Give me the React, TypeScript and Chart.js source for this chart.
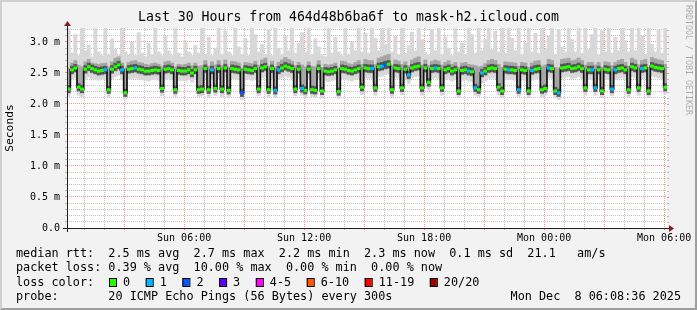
import React, { useEffect, useRef } from 'react';
import { Chart, registerables } from 'chart.js';

Chart.register(...registerables);

// ---- time axis (minutes since Sun 00:00) ----
const START_MIN = 8.6; // Sun 00:08:36
const STEP_MIN = 10;
const END_MIN = START_MIN + 1800;
const HOUR_TICKS = Array.from({ length: 30 }, (_, k) => (k + 1) * 60);
const X_LABEL_VALUES = [360, 720, 1080, 1440, 1800];
const X_LABELS = ['Sun 06:00', 'Sun 12:00', 'Sun 18:00', 'Mon 00:00', 'Mon 06:00'];
const Y_LABEL_VALUES = [0, 0.5, 1.0, 1.5, 2.0, 2.5, 3.0];
const Y_LABELS = ['0.0', '0.5 m', '1.0 m', '1.5 m', '2.0 m', '2.5 m', '3.0 m'];

// ---- data (milliseconds) ----
const median = [
  2.24, 2.55, 2.58, 2.27, 2.24, 2.56, 2.60, 2.57, 2.55, 2.53,
  2.54, 2.55, 2.23, 2.56, 2.60, 2.63, 2.55, 2.18, 2.56, 2.57,
  2.58, 2.56, 2.55, 2.53, 2.53, 2.54, 2.55, 2.54, 2.25, 2.56,
  2.57, 2.55, 2.23, 2.54, 2.53, 2.53, 2.55, 2.50, 2.55, 2.23,
  2.24, 2.57, 2.23, 2.55, 2.25, 2.57, 2.24, 2.58, 2.22, 2.57,
  2.56, 2.55, 2.18, 2.56, 2.55, 2.54, 2.57, 2.24, 2.58, 2.60,
  2.23, 2.57, 2.22, 2.55, 2.58, 2.61, 2.59, 2.57, 2.24, 2.56,
  2.25, 2.22, 2.56, 2.23, 2.22, 2.57, 2.21, 2.53, 2.52, 2.53,
  2.55, 2.20, 2.57, 2.56, 2.54, 2.53, 2.55, 2.57, 2.27, 2.58,
  2.57, 2.57, 2.26, 2.60, 2.61, 2.63, 2.64, 2.23, 2.58, 2.57,
  2.26, 2.56, 2.47, 2.58, 2.60, 2.61, 2.26, 2.58, 2.35, 2.57,
  2.58, 2.57, 2.26, 2.55, 2.57, 2.53, 2.55, 2.21, 2.54, 2.55,
  2.53, 2.52, 2.26, 2.23, 2.50, 2.53, 2.57, 2.58, 2.57, 2.27,
  2.21, 2.56, 2.55, 2.55, 2.54, 2.23, 2.55, 2.54, 2.21, 2.54,
  2.56, 2.57, 2.23, 2.25, 2.58, 2.57, 2.21, 2.18, 2.58, 2.59,
  2.60, 2.57, 2.58, 2.60, 2.57, 2.26, 2.55, 2.55, 2.26, 2.55,
  2.21, 2.56, 2.55, 2.24, 2.55, 2.57, 2.58, 2.55, 2.23, 2.60,
  2.58, 2.26, 2.57, 2.58, 2.21, 2.61, 2.59, 2.58, 2.57, 2.27,
];

const loss = [
  0, 0, 0, 0, 0, 0, 0, 0, 0, 0,
  0, 1, 0, 0, 0, 0, 1, 0, 0, 0,
  1, 0, 0, 0, 0, 0, 0, 0, 0, 0,
  0, 0, 0, 0, 0, 0, 0, 0, 0, 0,
  0, 0, 0, 1, 0, 0, 0, 0, 0, 0,
  0, 0, 2, 0, 0, 0, 0, 0, 0, 0,
  0, 0, 1, 1, 0, 0, 0, 0, 0, 0,
  1, 0, 0, 0, 0, 0, 0, 0, 0, 0,
  0, 0, 0, 0, 0, 0, 0, 0, 0, 0,
  0, 1, 0, 0, 1, 2, 0, 0, 0, 0,
  0, 0, 1, 0, 0, 0, 0, 0, 0, 0,
  1, 0, 0, 0, 0, 0, 0, 0, 0, 0,
  1, 0, 1, 0, 1, 0, 0, 0, 0, 0,
  0, 0, 1, 0, 0, 1, 0, 0, 0, 1,
  0, 0, 0, 0, 1, 0, 0, 1, 0, 0,
  0, 0, 0, 0, 0, 0, 0, 1, 1, 0,
  0, 0, 0, 1, 1, 0, 0, 0, 0, 0,
  0, 0, 1, 0, 0, 0, 0, 0, 0, 0,
];

const smokeMin = [
  2.12, 2.40, 2.42, 2.14, 2.12, 2.40, 2.43, 2.41, 2.40, 2.38,
  2.40, 2.39, 2.12, 2.41, 2.44, 2.46, 2.39, 2.08, 2.40, 2.41,
  2.42, 2.40, 2.39, 2.38, 2.37, 2.39, 2.40, 2.38, 2.13, 2.40,
  2.41, 2.39, 2.12, 2.38, 2.38, 2.37, 2.40, 2.35, 2.39, 2.12,
  2.13, 2.41, 2.11, 2.40, 2.14, 2.41, 2.12, 2.42, 2.10, 2.41,
  2.40, 2.39, 2.07, 2.40, 2.40, 2.38, 2.41, 2.13, 2.42, 2.44,
  2.12, 2.41, 2.10, 2.39, 2.42, 2.45, 2.43, 2.41, 2.13, 2.40,
  2.14, 2.10, 2.40, 2.12, 2.10, 2.41, 2.09, 2.37, 2.36, 2.38,
  2.39, 2.09, 2.41, 2.40, 2.38, 2.37, 2.40, 2.41, 2.15, 2.42,
  2.41, 2.41, 2.14, 2.44, 2.45, 2.47, 2.48, 2.12, 2.42, 2.41,
  2.15, 2.40, 2.33, 2.42, 2.44, 2.45, 2.14, 2.42, 2.22, 2.41,
  2.42, 2.41, 2.14, 2.39, 2.41, 2.37, 2.39, 2.10, 2.38, 2.39,
  2.37, 2.36, 2.14, 2.12, 2.34, 2.37, 2.41, 2.42, 2.41, 2.15,
  2.10, 2.40, 2.39, 2.39, 2.38, 2.12, 2.39, 2.38, 2.10, 2.38,
  2.40, 2.41, 2.12, 2.14, 2.42, 2.41, 2.10, 2.07, 2.42, 2.43,
  2.44, 2.41, 2.42, 2.44, 2.41, 2.14, 2.39, 2.39, 2.14, 2.39,
  2.10, 2.40, 2.39, 2.13, 2.39, 2.41, 2.42, 2.39, 2.12, 2.44,
  2.42, 2.14, 2.41, 2.42, 2.10, 2.45, 2.43, 2.42, 2.41, 2.16,
];

const smokeLo = [
  2.18, 2.48, 2.51, 2.21, 2.18, 2.49, 2.53, 2.50, 2.48, 2.46,
  2.47, 2.48, 2.17, 2.49, 2.53, 2.56, 2.48, 2.12, 2.49, 2.50,
  2.51, 2.49, 2.48, 2.46, 2.46, 2.47, 2.48, 2.47, 2.19, 2.49,
  2.50, 2.48, 2.17, 2.47, 2.46, 2.46, 2.48, 2.43, 2.48, 2.17,
  2.18, 2.50, 2.17, 2.48, 2.19, 2.50, 2.18, 2.51, 2.16, 2.50,
  2.49, 2.48, 2.12, 2.49, 2.48, 2.47, 2.50, 2.18, 2.51, 2.53,
  2.17, 2.50, 2.16, 2.48, 2.51, 2.54, 2.52, 2.50, 2.18, 2.49,
  2.19, 2.16, 2.49, 2.17, 2.16, 2.50, 2.15, 2.46, 2.45, 2.46,
  2.48, 2.14, 2.50, 2.49, 2.47, 2.46, 2.48, 2.50, 2.21, 2.51,
  2.50, 2.50, 2.20, 2.53, 2.54, 2.56, 2.57, 2.17, 2.51, 2.50,
  2.20, 2.49, 2.40, 2.51, 2.53, 2.54, 2.20, 2.51, 2.28, 2.50,
  2.51, 2.50, 2.20, 2.48, 2.50, 2.46, 2.48, 2.15, 2.47, 2.48,
  2.46, 2.45, 2.20, 2.17, 2.43, 2.46, 2.50, 2.51, 2.50, 2.21,
  2.15, 2.49, 2.48, 2.48, 2.47, 2.17, 2.48, 2.47, 2.15, 2.47,
  2.49, 2.50, 2.17, 2.19, 2.51, 2.50, 2.15, 2.12, 2.51, 2.52,
  2.53, 2.50, 2.51, 2.53, 2.50, 2.20, 2.48, 2.48, 2.20, 2.48,
  2.15, 2.49, 2.48, 2.18, 2.48, 2.50, 2.51, 2.48, 2.17, 2.53,
  2.51, 2.20, 2.50, 2.51, 2.15, 2.54, 2.52, 2.51, 2.50, 2.21,
];

const smokeHi = [
  2.58, 2.66, 2.70, 2.62, 2.60, 2.68, 2.72, 2.66, 2.65, 2.64,
  2.65, 2.66, 2.60, 2.68, 2.74, 2.76, 2.66, 2.58, 2.67, 2.69,
  2.70, 2.67, 2.66, 2.64, 2.63, 2.65, 2.66, 2.64, 2.60, 2.68,
  2.69, 2.66, 2.60, 2.64, 2.63, 2.64, 2.66, 2.62, 2.66, 2.61,
  2.62, 2.70, 2.61, 2.68, 2.63, 2.70, 2.62, 2.71, 2.60, 2.69,
  2.68, 2.66, 2.58, 2.67, 2.66, 2.65, 2.69, 2.62, 2.71, 2.74,
  2.61, 2.69, 2.60, 2.67, 2.71, 2.75, 2.72, 2.69, 2.62, 2.67,
  2.63, 2.60, 2.68, 2.61, 2.60, 2.70, 2.59, 2.64, 2.63, 2.64,
  2.66, 2.58, 2.69, 2.68, 2.65, 2.64, 2.67, 2.70, 2.64, 2.72,
  2.70, 2.70, 2.64, 2.74, 2.76, 2.78, 2.80, 2.62, 2.71, 2.69,
  2.64, 2.68, 2.62, 2.71, 2.74, 2.76, 2.63, 2.71, 2.62, 2.69,
  2.71, 2.69, 2.63, 2.67, 2.70, 2.64, 2.67, 2.59, 2.66, 2.67,
  2.64, 2.63, 2.62, 2.60, 2.61, 2.65, 2.70, 2.72, 2.70, 2.64,
  2.59, 2.68, 2.67, 2.67, 2.66, 2.61, 2.67, 2.66, 2.59, 2.66,
  2.69, 2.70, 2.61, 2.63, 2.72, 2.70, 2.59, 2.57, 2.72, 2.73,
  2.74, 2.70, 2.71, 2.74, 2.70, 2.63, 2.67, 2.67, 2.63, 2.67,
  2.59, 2.68, 2.67, 2.62, 2.67, 2.70, 2.72, 2.67, 2.61, 2.74,
  2.71, 2.63, 2.70, 2.72, 2.59, 2.75, 2.73, 2.71, 2.70, 2.64,
];

const smokeMax = [
  3.30, 2.82, 3.12, 2.78, 3.30, 2.86, 2.95, 2.76, 3.22, 2.84,
  2.78, 3.30, 2.80, 3.05, 2.88, 2.78, 3.30, 2.84, 2.80, 3.00,
  2.78, 3.15, 2.82, 2.76, 2.98, 2.80, 3.30, 2.84, 2.78, 3.10,
  2.86, 2.78, 3.30, 2.82, 2.76, 3.02, 2.84, 2.78, 2.94, 2.82,
  3.25, 2.80, 3.08, 2.78, 2.90, 3.30, 2.80, 3.18, 2.84, 2.78,
  3.30, 2.92, 2.80, 3.06, 2.78, 3.30, 3.12, 2.84, 2.96, 2.80,
  3.20, 2.78, 3.30, 2.90, 2.80, 3.10, 2.86, 3.30, 2.82, 2.98,
  3.15, 2.84, 3.30, 2.80, 3.05, 2.92, 2.78, 2.76, 3.30, 2.82,
  3.08, 2.84, 2.78, 3.30, 2.80, 3.00, 2.86, 3.30, 2.84, 3.14,
  2.82, 3.30, 3.06, 2.86, 3.30, 2.96, 3.22, 2.84, 3.10, 2.80,
  3.30, 2.82, 2.94, 3.16, 2.86, 3.30, 3.04, 2.84, 2.80, 3.20,
  2.86, 3.30, 2.80, 3.08, 2.90, 2.78, 3.30, 2.84, 2.98, 2.80,
  3.30, 3.12, 2.82, 3.30, 2.86, 3.04, 3.30, 2.88, 3.18, 2.84,
  3.22, 2.82, 3.30, 3.06, 2.86, 3.30, 2.80, 2.98, 3.30, 2.84,
  3.14, 2.82, 3.30, 2.88, 3.10, 3.30, 2.80, 3.20, 2.92, 2.84,
  3.30, 3.04, 2.84, 3.24, 2.82, 3.30, 2.88, 3.12, 3.30, 2.80,
  3.18, 2.84, 3.30, 2.82, 3.08, 2.86, 3.30, 3.02, 2.84, 3.30,
  2.86, 3.30, 3.10, 2.80, 3.30, 2.96, 2.84, 3.20, 2.82, 3.30,
];

// ---- texts ----
const TITLE = 'Last 30 Hours from 464d48b6ba6f to mask-h2.icloud.com';
const Y_TITLE = 'Seconds';
const WATERMARK = 'RRDTOOL / TOBI OETIKER';
const LEGEND_RTT = 'median rtt:  2.5 ms avg  2.7 ms max  2.2 ms min  2.3 ms now  0.1 ms sd  21.1   am/s';
const LEGEND_LOSS = 'packet loss: 0.39 % avg  10.00 % max  0.00 % min  0.00 % now';
const LEGEND_COLOR = 'loss color:';
const LOSS_LABELS = ['0', '1', '2', '3', '4-5', '6-10', '11-19', '20/20'];
const LOSS_COLORS = ['#26ff00', '#00b8ff', '#0059ff', '#5e00ff', '#ff00ff', '#ff5500', '#ff0000', '#a10000'];
const LEGEND_PROBE = 'probe:       20 ICMP Echo Pings (56 Bytes) every 300s';
const STAMP = 'Mon Dec  8 06:08:36 2025';

// ---- style ----
const MONO = '"DejaVu Sans Mono", "Liberation Mono", monospace';
const BACK = '#f2f2f2';
const CANVAS_BG = '#ffffff';
const SHADEA = '#cfcfcf';
const SHADEB = '#9e9e9e';
const GRID = 'rgba(143,143,143,0.55)';
const MGRID = 'rgba(222,79,79,0.6)';
const AXIS = '#1f1f1f';
const ARROW = '#801f1f';
const Y_MAX = 3.225;
const MARK_HALF = 0.019;
const CORE_HALF = 0.06;

const TIMES = median.map((_, i) => START_MIN + STEP_MIN * (i + 0.5));
const isMajorY = (v: number) => Math.abs(v * 2 - Math.round(v * 2)) < 1e-6;
const Y_GRID = Array.from({ length: 33 }, (_, k) => k / 10);

const lossBucket = (l: number) =>
  l <= 3 ? l : l <= 5 ? 4 : l <= 10 ? 5 : l <= 19 ? 6 : 7;

const floatBars = (lo: number[], hi: number[]) =>
  TIMES.map((x, i) => ({ x, y: [lo[i], hi[i]] }));
const bandAround = (mid: number[], half: number) =>
  TIMES.map((x, i) => ({ x, y: [mid[i] - half, mid[i] + half] }));

const rrdPlugin = {
  id: 'rrdDecor',
  beforeDraw(chart: any) {
    const { ctx, width, height, chartArea: a } = chart;
    ctx.save();
    ctx.fillStyle = BACK;
    ctx.fillRect(0, 0, width, height);
    ctx.fillStyle = SHADEA;
    ctx.beginPath();
    ctx.moveTo(0, height); ctx.lineTo(2, height - 2); ctx.lineTo(2, 2);
    ctx.lineTo(width - 2, 2); ctx.lineTo(width, 0); ctx.lineTo(0, 0);
    ctx.closePath(); ctx.fill();
    ctx.fillStyle = SHADEB;
    ctx.beginPath();
    ctx.moveTo(2, height - 2); ctx.lineTo(width - 2, height - 2); ctx.lineTo(width - 2, 2);
    ctx.lineTo(width, 0); ctx.lineTo(width, height); ctx.lineTo(0, height);
    ctx.closePath(); ctx.fill();
    ctx.fillStyle = CANVAS_BG;
    ctx.fillRect(a.left, a.top, a.right - a.left, a.bottom - a.top);
    ctx.restore();
  },
  afterDraw(chart: any) {
    const { ctx, chartArea: a, width } = chart;
    const yScale = chart.scales.y;
    ctx.save();
    Y_GRID.forEach((v) => {
      const y = Math.round(yScale.getPixelForValue(v)) + 0.5;
      ctx.strokeStyle = isMajorY(v) ? MGRID : GRID;
      ctx.lineWidth = 1;
      ctx.beginPath(); ctx.moveTo(a.right, y); ctx.lineTo(a.right + 2, y); ctx.stroke();
    });
    ctx.strokeStyle = AXIS;
    ctx.lineWidth = 1;
    const bx = Math.round(a.left) + 0.5;
    const by = Math.round(a.bottom) + 0.5;
    ctx.beginPath(); ctx.moveTo(a.left - 4, by); ctx.lineTo(a.right + 4, by); ctx.stroke();
    ctx.beginPath(); ctx.moveTo(bx, a.bottom + 4); ctx.lineTo(bx, a.top - 4); ctx.stroke();
    ctx.fillStyle = ARROW;
    ctx.beginPath();
    ctx.moveTo(a.right + 2, a.bottom - 3); ctx.lineTo(a.right + 2, a.bottom + 4);
    ctx.lineTo(a.right + 7, a.bottom + 0.5); ctx.closePath(); ctx.fill();
    ctx.beginPath();
    ctx.moveTo(a.left - 3, a.top - 2); ctx.lineTo(a.left + 4, a.top - 2);
    ctx.lineTo(a.left + 0.5, a.top - 7); ctx.closePath(); ctx.fill();

    ctx.fillStyle = '#000';
    ctx.textBaseline = 'middle';
    ctx.textAlign = 'center';
    ctx.font = `13.2px ${MONO}`;
    ctx.fillText(TITLE, width / 2, 18);

    ctx.save();
    ctx.translate(10.5, (a.top + a.bottom) / 2);
    ctx.rotate(-Math.PI / 2);
    ctx.font = `11.3px ${MONO}`;
    ctx.fillText(Y_TITLE, 0, 0);
    ctx.restore();

    ctx.save();
    ctx.translate(688.5, 60);
    ctx.rotate(Math.PI / 2);
    ctx.font = `8.3px ${MONO}`;
    ctx.fillStyle = 'rgba(0,0,0,0.3)';
    ctx.fillText(WATERMARK, 0, 0);
    ctx.restore();

    ctx.textAlign = 'left';
    ctx.font = `11.8px ${MONO}`;
    ctx.fillStyle = '#000';
    ctx.fillText(LEGEND_RTT, 16, 253.5);
    ctx.fillText(LEGEND_LOSS, 16, 268);
    ctx.fillText(LEGEND_COLOR, 16, 282.5);
    let x = 109;
    LOSS_LABELS.forEach((lab, i) => {
      ctx.fillStyle = LOSS_COLORS[i];
      ctx.fillRect(x, 278, 7, 8);
      ctx.strokeStyle = '#000';
      ctx.lineWidth = 1;
      ctx.strokeRect(x + 0.5, 278.5, 7, 8);
      ctx.fillStyle = '#000';
      ctx.fillText(lab, x + 14, 282.5);
      x += 14 + ctx.measureText(lab).width + 15.6;
    });
    ctx.fillText(LEGEND_PROBE, 16, 297);
    ctx.textAlign = 'right';
    ctx.fillText(STAMP, 681, 297);
    ctx.restore();
  },
};

const barCommon = { borderWidth: 0, grouped: false, barPercentage: 1, categoryPercentage: 1 };

export default function App() {
  const ref = useRef<HTMLCanvasElement>(null);
  useEffect(() => {
    document.body.style.margin = '0';
    const canvas = ref.current!;
    const chart = new Chart(canvas, {
      type: 'bar',
      data: {
        datasets: [
          {
            type: 'bar',
            label: 'loss',
            data: bandAround(median, MARK_HALF),
            backgroundColor: loss.map((l) => LOSS_COLORS[lossBucket(l)]),
            ...barCommon,
            order: 0,
          } as any,
          {
            type: 'line',
            label: 'median',
            data: TIMES.map((x, i) => ({ x, y: median[i] })),
            borderColor: '#111111',
            borderWidth: 1.7,
            pointRadius: 0,
            stepped: 'middle',
            fill: false,
            order: 1,
          },
          {
            type: 'bar',
            label: 'core',
            data: bandAround(median, CORE_HALF),
            backgroundColor: 'rgba(40,40,40,0.6)',
            ...barCommon,
            order: 2,
          } as any,
          {
            type: 'bar',
            label: 'smoke-mid',
            data: floatBars(smokeLo, smokeHi),
            backgroundColor: '#a6a6a6',
            ...barCommon,
            order: 3,
          } as any,
          {
            type: 'bar',
            label: 'smoke-all',
            data: floatBars(smokeMin, smokeMax),
            backgroundColor: '#d8d8d8',
            ...barCommon,
            order: 4,
          } as any,
        ],
      },
      options: {
        responsive: false,
        animation: false,
        devicePixelRatio: 1,
        events: [],
        layout: { padding: { top: 28, right: 30, bottom: 0, left: 0 } },
        plugins: { legend: { display: false }, tooltip: { enabled: false }, title: { display: false } },
        scales: {
          x: {
            type: 'linear',
            min: START_MIN,
            max: END_MIN,
            offset: false,
            z: 1,
            afterBuildTicks: (s: any) => { s.ticks = HOUR_TICKS.map((v) => ({ value: v })); },
            afterFit: (s: any) => { s.height = 82; },
            grid: {
              offset: false,
              drawTicks: true,
              tickLength: 2,
              lineWidth: 1,
              color: (c: any) => (c.tick && c.tick.value % 180 === 0 ? MGRID : GRID),
              tickColor: (c: any) => (c.tick && c.tick.value % 180 === 0 ? MGRID : GRID),
            },
            border: { display: false, dash: [1, 1] },
            ticks: {
              autoSkip: false,
              maxRotation: 0,
              minRotation: 0,
              padding: 2,
              color: '#000',
              font: { family: MONO, size: 10 },
              callback: (v: any) => {
                const k = X_LABEL_VALUES.indexOf(Number(v));
                return k >= 0 ? X_LABELS[k] : '';
              },
            },
          },
          y: {
            type: 'linear',
            min: 0,
            max: Y_MAX,
            z: 1,
            afterBuildTicks: (s: any) => { s.ticks = Y_GRID.map((v) => ({ value: v })); },
            afterFit: (s: any) => { s.width = 67; },
            grid: {
              drawTicks: true,
              tickLength: 2,
              lineWidth: 1,
              color: (c: any) => (c.tick && isMajorY(c.tick.value) ? MGRID : GRID),
              tickColor: (c: any) => (c.tick && isMajorY(c.tick.value) ? MGRID : GRID),
            },
            border: { display: false, dash: [1, 1] },
            ticks: {
              autoSkip: false,
              padding: 5,
              color: '#000',
              font: { family: MONO, size: 10 },
              callback: (v: any) => {
                const k = Y_LABEL_VALUES.findIndex((t) => Math.abs(t - Number(v)) < 1e-6);
                return k >= 0 ? Y_LABELS[k] : '';
              },
            },
          },
        },
      } as any,
      plugins: [rrdPlugin],
    });
    return () => chart.destroy();
  }, []);
  return <canvas ref={ref} width={697} height={310} style={{ display: 'block', width: 697, height: 310 }} />;
}
